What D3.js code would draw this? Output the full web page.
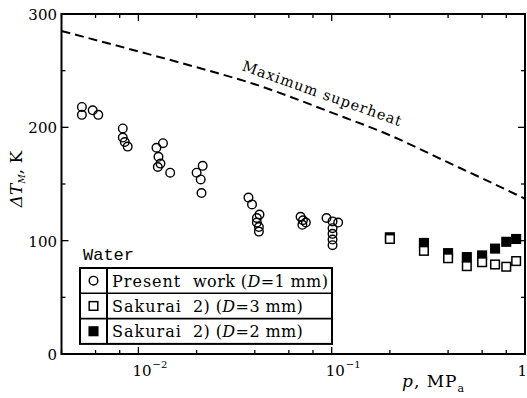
<!DOCTYPE html>
<html>
<head>
<meta charset="utf-8">
<script src="https://cdn.jsdelivr.net/npm/d3@7"></script>
<style>
  body { margin: 0; background: #fff; }
  svg { display: block; font-family: "DejaVu Serif", serif; }
</style>
</head>
<body>
<div class="container"></div>
<script>
// values: [p (MPa), ΔT_M (K)]
const presentWork = [
  [0.0051, 218], [0.0051, 211], [0.0058, 215], [0.0062, 211],
  [0.0083, 199], [0.0083, 191], [0.0085, 187], [0.0088, 183],
  [0.0124, 182], [0.0134, 186], [0.0127, 174], [0.0130, 168], [0.0126, 165], [0.0146, 160],
  [0.0215, 166], [0.0200, 160], [0.0210, 154], [0.0212, 142],
  [0.0371, 138], [0.0387, 132], [0.0423, 123], [0.0410, 120], [0.0410, 116], [0.0420, 112], [0.0420, 108],
  [0.0690, 121], [0.0710, 118], [0.0735, 116], [0.0705, 114],
  [0.0940, 120], [0.1010, 117], [0.1080, 116], [0.1010, 111], [0.1010, 106], [0.1010, 101], [0.1010, 96],
];
const sakurai3mm = [
  [0.2, 101.5], [0.3, 91], [0.4, 84.5], [0.5, 77.5], [0.6, 81], [0.7, 79], [0.8, 77], [0.9, 82],
];
const sakurai2mm = [
  [0.2, 103], [0.3, 98], [0.4, 89], [0.5, 85.5], [0.6, 87], [0.7, 93], [0.8, 99], [0.9, 101.5],
];
const maxSuperheat = [
  [0.004, 285], [0.01, 267], [0.02, 253], [0.04, 238], [0.1, 213],
  [0.2, 193], [0.4, 169], [0.6, 155], [1, 137],
];

const yMajor = [0, 100, 200, 300];
const yMinor = [50, 150, 250];
const xMajor = [0.01, 0.1];
const xMinor = [0.004, 0.006, 0.008, 0.02, 0.04, 0.06, 0.08, 0.2, 0.4, 0.6, 0.8];
const xTickLabels = [
  { v: 0.01, base: "10", exp: "\u22122" },
  { v: 0.1, base: "10", exp: "\u22121" },
  { v: 1, base: "1", exp: "" },
];
const legendLabels = [
  { kind: "circle", name: "Present", ref: "work", d: "1" },
  { kind: "open", name: "Sakurai", ref: "2)", d: "3" },
  { kind: "filled", name: "Sakurai", ref: "2)", d: "2" },
];

const width = 527;
const height = 398;

const x = d3.scaleLog().domain([0.004, 1]).range([61.5, 525]);
const y = d3.scaleLinear().domain([0, 300]).range([354, 14]);

const svg = d3.select(".container")
  .append("svg")
  .attr("width", width)
  .attr("height", height);

//frame
svg.append("rect")
  .attr("x", x.range()[0])
  .attr("y", y.range()[1])
  .attr("width", x.range()[1] - x.range()[0])
  .attr("height", y.range()[0] - y.range()[1])
  .attr("fill", "none")
  .attr("stroke", "#000")
  .attr("stroke-width", 2);

//ticks (inward on all four sides)
const ticks = svg.append("g").attr("stroke", "#000").attr("stroke-width", 1.3);
const yTicks = yMajor.map((v) => ({ v, len: 7 })).concat(yMinor.map((v) => ({ v, len: 4 })));
const xTicks = xMajor.map((v) => ({ v, len: 7 })).concat(xMinor.map((v) => ({ v, len: 4 })));

ticks.selectAll("line.yl").data(yTicks).join("line")
  .attr("x1", x.range()[0]).attr("x2", (d) => x.range()[0] + d.len)
  .attr("y1", (d) => y(d.v)).attr("y2", (d) => y(d.v));
ticks.selectAll("line.yr").data(yTicks).join("line")
  .attr("x1", x.range()[1]).attr("x2", (d) => x.range()[1] - d.len)
  .attr("y1", (d) => y(d.v)).attr("y2", (d) => y(d.v));
ticks.selectAll("line.xb").data(xTicks).join("line")
  .attr("x1", (d) => x(d.v)).attr("x2", (d) => x(d.v))
  .attr("y1", y.range()[0]).attr("y2", (d) => y.range()[0] - d.len);
ticks.selectAll("line.xt").data(xTicks).join("line")
  .attr("x1", (d) => x(d.v)).attr("x2", (d) => x(d.v))
  .attr("y1", y.range()[1]).attr("y2", (d) => y.range()[1] + d.len);

//tick labels
svg.append("g")
  .selectAll("text")
  .data(yMajor)
  .join("text")
  .attr("x", 57)
  .attr("y", (d) => y(d) + 6)
  .attr("text-anchor", "end")
  .attr("font-size", 15)
  .text((d) => d);

const xl = svg.append("g")
  .selectAll("text")
  .data(xTickLabels)
  .join("text")
  .attr("x", (d) => (d.exp ? x(d.v) - 6 : width))
  .attr("y", 376)
  .attr("text-anchor", (d) => (d.exp ? "start" : "end"))
  .attr("font-size", 15);
xl.append("tspan").text((d) => d.base);
xl.filter((d) => d.exp)
  .append("tspan")
  .attr("font-size", 10)
  .attr("dx", 1)
  .attr("dy", -8)
  .text((d) => d.exp);

//axis titles
const yTitle = svg.append("text")
  .attr("transform", "translate(22,179) rotate(-90)")
  .attr("text-anchor", "middle")
  .attr("font-size", 17);
yTitle.append("tspan").attr("font-style", "italic").text("\u0394T");
yTitle.append("tspan").attr("font-style", "italic").attr("font-size", 9).attr("dy", 3).text("M");
yTitle.append("tspan").attr("dy", -3).text(", K");

const xTitle = svg.append("text")
  .attr("x", 402)
  .attr("y", 387)
  .attr("font-size", 17)
  .attr("letter-spacing", 1);
xTitle.append("tspan").attr("font-style", "italic").text("p");
xTitle.append("tspan").text(", MP");
xTitle.append("tspan").attr("font-size", 11).attr("dy", 5).text("a");

//maximum superheat curve
const line = d3.line()
  .x((d) => x(d[0]))
  .y((d) => y(d[1]))
  .curve(d3.curveMonotoneX);

svg.append("path")
  .datum(maxSuperheat)
  .attr("d", line)
  .attr("fill", "none")
  .attr("stroke", "#000")
  .attr("stroke-width", 2)
  .attr("stroke-dasharray", "9,5");

svg.append("text")
  .attr("transform", `translate(${x(0.034)},${y(250.5)}) rotate(19.5)`)
  .attr("font-size", 14.5)
  .attr("letter-spacing", 1)
  .text("Maximum superheat");

//markers
function marker(sel, kind) {
  if (kind === "circle") {
    sel.append("circle")
      .attr("r", 4.3)
      .attr("fill", "none")
      .attr("stroke", "#000")
      .attr("stroke-width", 1.4);
  } else {
    sel.append("rect")
      .attr("x", -4.3).attr("y", -4.3)
      .attr("width", 8.6).attr("height", 8.6)
      .attr("fill", kind === "filled" ? "#000" : "#fff")
      .attr("stroke", "#000")
      .attr("stroke-width", 1.5);
  }
}

const series = [
  { data: sakurai2mm, kind: "filled" },
  { data: sakurai3mm, kind: "open" },
  { data: presentWork, kind: "circle" },
];
series.forEach((s) => {
  svg.append("g")
    .selectAll("g")
    .data(s.data)
    .join("g")
    .attr("transform", (d) => `translate(${x(d[0])},${y(d[1])})`)
    .call(marker, s.kind);
});

//legend
const lg = { x0: 80, x1: 332, y0: 268, rowH: 25.3, split: 107 };
const legend = svg.append("g");

legend.append("text")
  .attr("x", 83)
  .attr("y", 260)
  .attr("font-family", "'Liberation Mono', 'DejaVu Sans Mono', monospace")
  .attr("font-size", 17)
  .text("Water");

legend.append("rect")
  .attr("x", lg.x0)
  .attr("y", lg.y0)
  .attr("width", lg.x1 - lg.x0)
  .attr("height", lg.rowH * legendLabels.length)
  .attr("fill", "#fff")
  .attr("stroke", "#000")
  .attr("stroke-width", 2);

legend.append("line")
  .attr("x1", lg.split).attr("x2", lg.split)
  .attr("y1", lg.y0).attr("y2", lg.y0 + lg.rowH * legendLabels.length)
  .attr("stroke", "#000").attr("stroke-width", 2);

legend.selectAll("line.row")
  .data(legendLabels.slice(1))
  .join("line")
  .attr("x1", lg.x0).attr("x2", lg.x1)
  .attr("y1", (d, i) => lg.y0 + (i + 1) * lg.rowH)
  .attr("y2", (d, i) => lg.y0 + (i + 1) * lg.rowH)
  .attr("stroke", "#000").attr("stroke-width", 1.6);

const rows = legend.selectAll("g.row")
  .data(legendLabels)
  .join("g")
  .attr("transform", (d, i) => `translate(0,${lg.y0 + (i + 0.5) * lg.rowH})`);

rows.each(function (d) {
  const g = d3.select(this);
  g.append("g").attr("transform", "translate(93.5,0)").call(marker, d.kind);

  const t = g.append("text").attr("y", 6).attr("font-size", 16);
  t.append("tspan").attr("x", 112).attr("letter-spacing", 1).text(d.name);
  const rest = t.append("tspan").attr("x", 193).attr("letter-spacing", 0.4);
  rest.append("tspan").text(d.ref + " (");
  rest.append("tspan").attr("font-style", "italic").text("D");
  rest.append("tspan").text("=" + d.d + " mm)");
});
</script>
</body>
</html>
